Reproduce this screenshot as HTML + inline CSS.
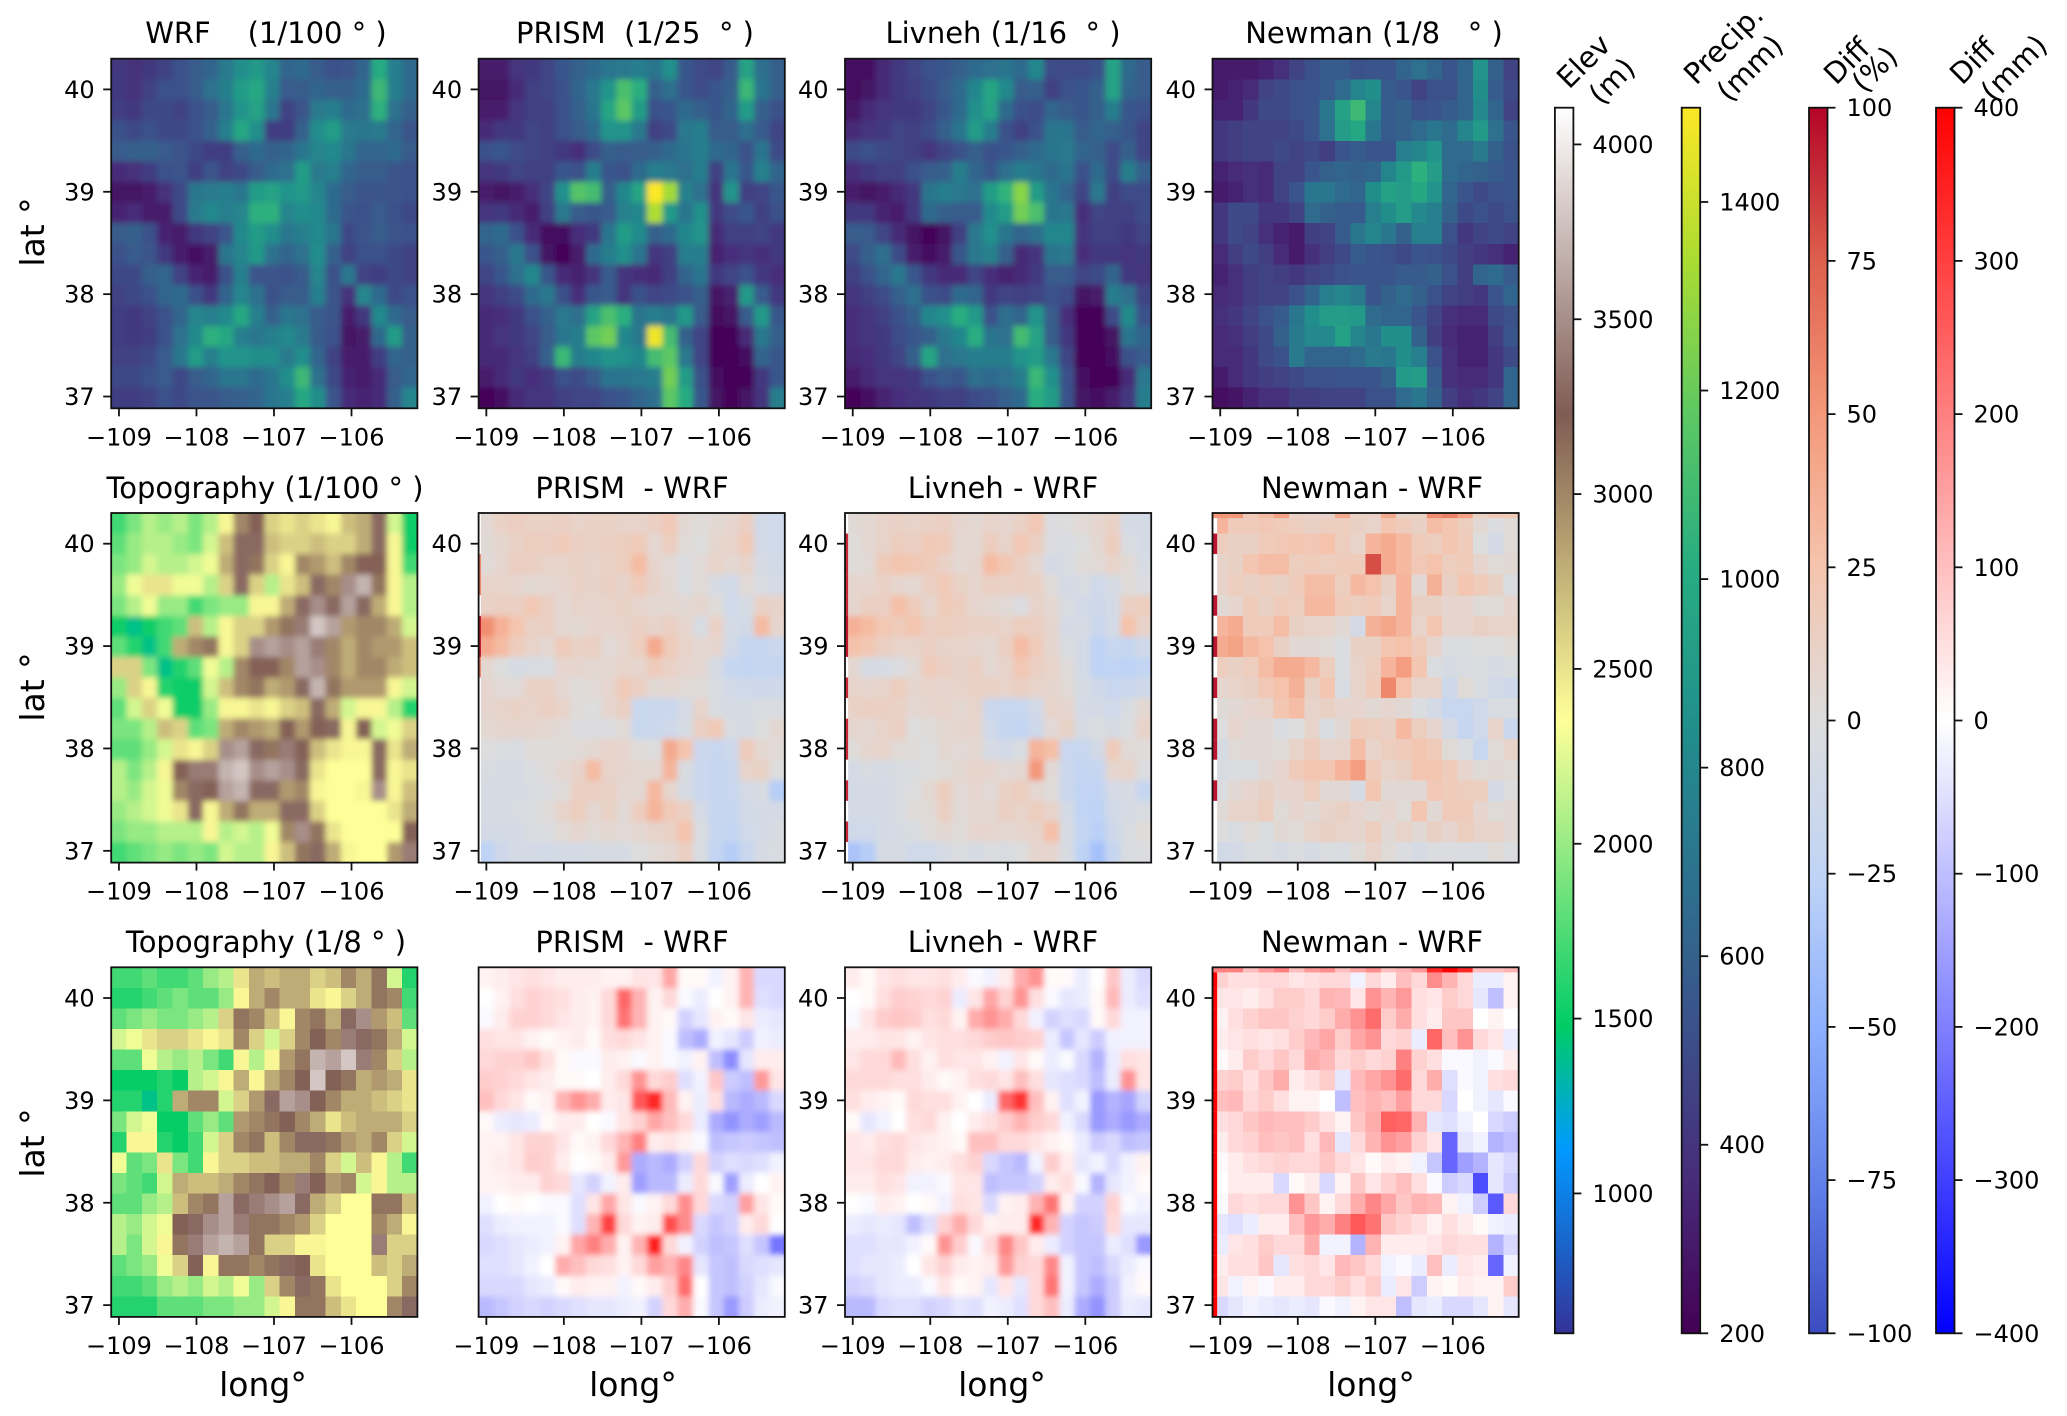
<!DOCTYPE html>
<html>
<head>
<meta charset="utf-8">
<title>Colorado precipitation and topography comparison</title>
<style>
html,body{margin:0;padding:0;background:#fff;}
svg{display:block;}
text{font-family:"DejaVu Sans","Liberation Sans",sans-serif;fill:#000;white-space:pre;}
.title{font-size:29px;text-anchor:middle;}
.big{font-size:33px;text-anchor:middle;}
.cbt{font-size:29px;}
.tick{font-size:24px;}
</style>
</head>
<body>
<svg id="fig" xmlns="http://www.w3.org/2000/svg" width="2067" height="1416" viewBox="0 0 2067 1416">
<defs>
<filter id="soft3" x="-5%" y="-5%" width="110%" height="110%"><feGaussianBlur stdDeviation="3"/></filter>
</defs>
<g id="panels"></g>
<g id="colorbars"></g>

<text class="title" x="266" y="43">WRF    (1/100 ° )</text>
<text class="title" x="635" y="43">PRISM  (1/25  ° )</text>
<text class="title" x="1003" y="43">Livneh (1/16  ° )</text>
<text class="title" x="1374" y="43">Newman (1/8   ° )</text>
<text class="title" x="265" y="498">Topography (1/100 ° )</text>
<text class="title" x="632" y="498">PRISM  - WRF</text>
<text class="title" x="1003" y="498">Livneh - WRF</text>
<text class="title" x="1372" y="498">Newman - WRF</text>
<text class="title" x="266" y="952">Topography (1/8 ° )</text>
<text class="title" x="632" y="952">PRISM  - WRF</text>
<text class="title" x="1003" y="952">Livneh - WRF</text>
<text class="title" x="1372" y="952">Newman - WRF</text>

<text class="big" transform="translate(44,232) rotate(-90)">lat °</text>
<text class="big" transform="translate(44,687) rotate(-90)">lat °</text>
<text class="big" transform="translate(44,1143) rotate(-90)">lat °</text>
<text class="big" x="263" y="1396">long°</text>
<text class="big" x="633" y="1396">long°</text>
<text class="big" x="1002" y="1396">long°</text>
<text class="big" x="1371" y="1396">long°</text>

<text class="cbt" transform="translate(1569,90) rotate(-45)">Elev</text>
<text class="cbt" transform="translate(1601,106) rotate(-45)">(m)</text>
<text class="cbt" transform="translate(1696,86) rotate(-45)">Precip.</text>
<text class="cbt" transform="translate(1729,103) rotate(-45)">(mm)</text>
<text class="cbt" transform="translate(1836,86) rotate(-45)">Diff</text>
<text class="cbt" transform="translate(1864,94) rotate(-45)">(%)</text>
<text class="cbt" transform="translate(1962,86) rotate(-45)">Diff</text>
<text class="cbt" transform="translate(1993,103) rotate(-45)">(mm)</text>
</svg>
<script>
// Precipitation, tens of mm. Rows run north to south, columns west to east.
const wrfPrecip = [
[41,38,41,46,52,57,62,73,84,90,79,62,65,57,52,54,62,100,76,65],
[41,38,46,52,52,57,68,76,92,98,76,57,57,62,60,60,65,108,76,65],
[44,41,49,49,46,52,57,71,87,95,71,46,54,73,76,65,68,103,68,60],
[52,49,52,49,49,52,60,76,98,84,44,44,60,84,92,73,71,73,62,54],
[57,60,60,57,54,49,44,44,60,65,60,62,71,79,81,71,62,62,65,57],
[36,38,44,52,54,44,54,46,49,57,65,68,92,73,76,62,57,57,54,52],
[27,27,30,38,49,71,73,76,71,92,95,87,90,79,65,57,54,54,54,52],
[33,36,30,30,49,73,81,76,79,103,103,79,84,81,65,54,52,57,52,49],
[57,60,52,33,30,41,46,54,81,92,84,71,76,81,71,49,54,57,54,52],
[52,57,54,41,30,25,30,71,79,90,68,62,68,84,60,46,52,52,49,46],
[49,49,60,62,46,33,30,52,76,54,54,52,57,79,52,71,46,44,49,46],
[46,49,52,62,65,52,41,62,79,68,52,57,57,76,54,38,79,65,49,52],
[44,41,46,52,62,79,76,81,98,76,60,71,68,57,54,30,41,81,65,57],
[44,41,44,52,68,81,103,98,76,71,76,81,73,57,52,27,30,65,92,60],
[46,46,49,57,71,92,76,87,87,84,84,73,84,62,46,30,30,44,62,60],
[49,49,52,57,49,57,62,71,71,65,71,84,108,68,49,33,30,36,57,62],
[44,44,46,52,49,54,54,57,60,62,71,76,98,84,54,36,33,36,60,79]];
const prismPrecip = [
[30,30,40,42,47,55,60,65,70,72,75,70,85,55,50,47,57,95,67,60],
[27,27,35,45,47,52,62,72,87,112,102,60,67,55,50,55,60,107,70,60],
[30,30,40,45,45,52,60,70,97,117,92,52,55,65,60,55,62,92,60,52],
[35,42,42,47,45,52,57,65,87,87,72,45,50,72,75,57,57,67,57,47],
[52,55,50,47,45,42,37,50,60,57,57,60,65,70,75,65,62,52,70,50],
[40,42,47,45,45,55,52,75,55,52,65,75,72,67,75,45,70,55,77,62],
[30,27,30,37,47,85,115,110,60,80,97,150,132,77,67,40,87,45,47,55],
[40,42,35,30,45,72,57,55,57,77,80,135,90,70,85,42,50,55,45,52],
[62,65,52,35,25,25,37,42,70,92,82,60,65,80,87,35,45,45,47,42],
[55,60,72,52,27,22,30,65,75,85,70,40,45,75,75,32,37,40,37,42],
[47,55,67,80,55,35,32,40,57,40,37,35,45,62,70,42,47,52,42,37],
[40,45,50,65,72,52,37,55,57,40,52,47,50,52,60,27,32,90,57,42],
[35,37,42,52,60,72,67,95,112,102,70,75,70,90,57,25,27,57,90,55],
[35,40,42,47,57,70,75,117,122,80,72,147,110,60,47,22,22,35,72,60],
[35,35,40,45,60,107,75,80,87,85,80,110,117,72,47,22,22,25,62,55],
[30,35,42,37,42,52,50,57,70,70,72,75,122,92,52,25,22,22,42,55],
[22,25,35,40,40,45,47,47,52,55,62,67,117,100,55,27,22,27,40,75]];
const livnehPrecip = [
[25,25,35,42,47,52,55,60,65,67,70,65,80,50,50,50,52,95,65,57],
[25,27,35,42,45,50,57,65,80,97,82,57,60,45,52,55,60,95,62,57],
[27,35,40,42,42,47,55,65,85,95,65,52,50,62,57,55,60,75,55,52],
[35,40,42,47,45,50,60,70,92,75,52,45,52,70,70,57,62,60,55,47],
[50,52,50,47,45,40,47,52,60,52,55,60,65,70,72,62,60,50,60,47],
[37,42,45,45,52,57,60,75,62,55,67,75,70,65,70,52,65,50,75,60],
[30,27,30,35,42,70,75,72,67,92,105,127,92,70,62,47,72,45,50,50],
[42,42,32,30,42,65,60,57,57,82,92,122,112,70,72,37,47,45,45,50],
[57,57,47,35,27,22,27,45,72,85,70,62,67,80,80,40,45,45,42,47],
[50,60,67,50,30,25,30,55,72,77,60,35,40,70,72,37,42,42,40,42],
[45,52,62,72,55,42,35,35,47,37,32,35,42,57,57,47,50,62,42,40],
[40,45,50,60,67,52,50,65,62,42,47,45,47,52,50,27,30,75,67,47],
[37,40,45,52,60,80,85,102,90,52,67,62,87,57,37,22,22,50,82,52],
[37,40,42,50,55,60,72,80,102,70,67,110,95,57,42,22,22,27,70,62],
[35,37,42,47,60,97,67,72,75,75,75,87,92,72,47,22,22,25,52,57],
[30,35,40,40,42,52,57,55,67,65,67,75,107,85,52,25,22,22,35,72],
[22,25,32,37,40,42,45,45,50,52,60,65,102,92,52,27,25,30,42,75]];
const newmanPrecip = [
[30,30,30,33,38,46,52,57,57,52,54,54,62,68,62,54,62,87,60,46],
[30,33,36,46,49,52,54,57,65,79,84,57,54,46,52,52,62,84,57,49],
[33,33,41,49,49,52,54,71,95,108,79,57,60,52,54,57,62,81,62,46],
[41,44,46,46,46,49,54,68,92,98,71,57,60,65,71,65,79,90,68,54],
[41,44,46,46,49,46,49,44,54,57,54,54,76,79,87,65,65,73,60,52],
[33,36,38,36,46,46,54,60,62,60,62,79,90,103,92,65,62,60,57,54],
[30,33,38,36,46,54,71,71,65,62,84,95,92,98,87,62,54,49,52,54],
[41,49,49,41,41,46,65,60,57,57,76,84,92,81,76,60,49,52,49,52],
[41,49,46,38,33,30,44,46,57,71,79,71,60,76,76,52,41,46,49,46],
[36,44,49,44,36,30,38,44,49,57,54,52,49,54,52,49,44,41,38,33],
[33,38,44,46,44,41,46,49,52,54,54,54,57,57,60,52,44,62,65,57],
[36,38,44,46,46,52,62,76,79,73,54,60,65,60,52,46,44,41,54,62],
[38,41,46,52,57,71,84,92,92,90,65,62,62,54,46,38,36,36,49,52],
[36,38,44,49,60,73,81,81,95,79,71,84,84,60,44,36,33,33,44,54],
[36,36,41,49,52,73,62,62,62,65,73,71,84,76,52,38,33,33,41,49],
[30,36,41,44,46,49,52,52,54,54,54,60,90,92,57,38,36,36,41,62],
[25,27,33,38,38,44,44,46,46,46,52,52,65,71,60,44,38,41,46,62]];

// Elevation, hundreds of metres.
const topo100 = [
[17,19,21,20,21,19,21,24,30,32,26,25,26,25,24,27,28,33,22,15],
[18,20,21,21,20,19,22,27,33,33,27,26,26,27,26,26,28,33,24,15],
[19,20,22,21,21,22,23,28,33,31,26,24,30,29,27,30,32,32,24,17],
[20,23,25,25,23,23,21,26,33,26,21,25,27,33,30,35,37,31,24,21],
[19,21,23,20,20,17,19,20,20,24,24,28,33,35,33,36,33,28,24,21],
[15,14,15,17,18,27,21,24,26,26,29,31,34,38,36,29,30,30,28,22],
[18,16,14,17,28,30,31,24,26,35,36,35,36,34,30,28,30,29,29,27],
[26,26,19,14,16,18,23,21,30,32,32,30,36,35,30,28,30,30,28,27],
[20,26,24,16,15,15,22,27,30,31,28,29,33,37,31,29,29,29,24,22],
[18,22,26,23,15,15,20,24,24,25,24,26,27,33,28,22,24,24,21,16],
[19,19,21,27,26,18,19,28,30,29,28,32,29,32,33,24,32,22,23,26],
[18,18,20,22,25,24,26,35,36,33,31,34,32,27,25,24,24,33,25,28],
[21,19,21,24,32,34,34,37,38,35,36,35,33,25,23.5,23.5,23.5,33,24,25],
[21,20,22,23,30,33,32,36,37,33,33,29,30,24,23.5,23.5,24,35,24,27],
[20,21,22,23,25,33,24,28,31,28,28,33,33,26,23.5,23.5,23.5,23.5,25,28],
[19,20,20,21,21,21,24,21,22,21,23,30,35,31,25,23.5,23.5,23.5,23.5,32],
[17,18,19,20,19,20,19,22,21,21,24,27,31,33,28,24,23.5,23.5,29,34]];
const topo8 = [
[17,17,18,17,17,18,20,21,25,28,27,28,28,26,27,30,28,31,22,16],
[16,16,17,18,19,18,18,20,24,28,30,28,28,25,24,26,28,31,30,17],
[18,19,20,19,19,20,21,26,31,30,27,24,30,31,28,33,35,29,27,18],
[22,23,25,26,26,25,24,25,30,26,22,26,30,32,30,34,33,31,28,22],
[18,18,23,21,20,21,19,17,24,21,24,29,31,37,36,38,34,30,26,21],
[15,15,15,16,15,21,22,24,28,24,28,30,32,38,32,31,28,29,28,25],
[16,16,14,16,28,30,30,22,26,29,33,36,35,32,30,28,28,27,26,25],
[19,22,23,15,15,18,20,18,29,30,31,32,30,28,25,27,28,28,28,26],
[16,24,24,16,15,17,22,26,30,31,27,30,33,33,31,29,28,30,26,22],
[23,18,19,25,19,17,24,26,26,27,27,28,28,30,26,22,27,24,21,17],
[19,18,17,22,28,27,27,28,30,31,32,30,34,32,29,30,22,24,21,21],
[18,18,20,21,27,30,31,36,33,34,35,36,33,28,26,23.5,23.5,31,31,27],
[21,20,22,23,32,33,35,36,34,31,31,30,29,26,23.5,23.5,23.5,30,28,24],
[21,19,22,24,31,34,36,37,36,31,26,26,24,24,23.5,23.5,23.5,34,26,26],
[18,19,20,23,26,32,24,31,31,30,31,33,32,25,23.5,23.5,23.5,27,26,28],
[17,17,18,20,21,20,22,21,23,20,26,30,33,31,25,23.5,23.5,23.5,26,30],
[16,16,16,18,18,18,19,19,20,20,22,24,31,31,27,25,23.5,23.5,30,33]];

// Difference, percent.
const prismDiffPct = [
[5,12,15,12,12,14,10,12,12,10,10,14,20,5,2,5,8,14,-10,-12],
[4,8,12,16,15,18,14,12,14,16,18,6,16,3,0,8,10,20,-10,-12],
[3,8,15,14,10,10,12,10,12,16,30,8,4,-2,4,10,6,10,-6,-10],
[10,10,8,5,6,8,12,10,14,10,18,10,5,-3,4,-6,-10,4,-4,-8],
[12,14,14,22,14,6,10,8,10,12,8,6,6,5,8,2,-12,-6,12,10],
[55,36,24,12,14,6,5,8,8,10,14,10,14,8,-5,12,-8,-10,30,8],
[40,30,16,10,6,18,12,14,4,8,16,40,18,10,6,8,-10,-20,-20,-16],
[6,0,-6,-4,-4,8,8,6,6,10,8,18,12,8,6,-6,-20,-22,-20,-20],
[8,4,4,12,12,6,2,4,8,20,14,4,6,4,2,-4,-10,-12,-14,-12],
[8,10,12,10,14,10,2,0,8,14,-18,-16,-16,-8,10,-4,-6,-6,-4,-4],
[6,8,8,8,6,4,-2,-2,-2,4,-18,-16,-12,-6,14,20,-4,-6,0,6],
[0,-2,-4,2,2,2,4,6,10,8,2,0,40,24,-16,-18,-14,18,6,4],
[-4,-6,-6,-2,2,6,10,30,10,8,6,6,34,-4,-16,-20,-18,10,12,0],
[-6,-6,-6,-4,-2,2,14,14,12,6,6,32,8,-6,-16,-20,-18,-8,-4,-30],
[-6,-6,-4,-2,2,10,16,6,12,4,16,34,20,14,-8,-20,-20,-10,-8,-8],
[-8,-8,-8,-4,-2,4,8,4,6,4,6,10,12,26,-4,-20,-22,-12,-8,-4],
[-26,-14,-8,-8,-10,-8,-8,-6,-6,-6,0,4,6,14,-4,-22,-30,-18,-6,-4]];
const livnehDiffPct = [
[4,6,10,12,10,12,14,8,6,10,8,12,22,-2,0,4,8,12,-8,-8],
[2,6,10,16,14,20,18,6,6,16,10,22,14,-2,-4,0,6,16,-4,-8],
[2,4,18,24,22,18,12,6,8,30,22,14,6,-8,-4,2,4,10,4,-6],
[8,8,12,8,6,14,20,12,8,14,12,14,12,2,-8,-4,-12,-6,2,-2],
[8,14,14,28,18,8,18,16,8,6,4,-2,10,6,-4,-10,-14,-8,14,16],
[36,30,22,18,24,14,16,14,12,12,10,16,14,8,-8,-6,-16,-8,26,10],
[26,22,14,10,10,14,10,10,8,6,14,30,18,8,-4,-8,-26,-18,-20,-12],
[6,-6,-6,-2,4,18,14,10,14,6,10,22,14,10,2,-8,-26,-24,-26,-22],
[10,8,10,16,8,10,8,10,12,12,10,14,10,8,4,-6,-12,-18,-16,-12],
[12,14,14,12,6,8,10,6,10,-16,-18,-18,-10,10,8,-8,-8,-12,-4,6],
[8,6,10,14,0,2,6,8,8,-12,-20,-22,-14,4,12,-6,-2,-6,-2,10],
[2,8,10,4,2,0,6,4,6,-6,-10,-4,34,28,-18,-18,-10,18,4,2],
[-8,-4,-6,-4,-2,0,2,6,10,8,4,6,50,4,-16,-22,-20,8,10,-2],
[-8,-8,-8,-4,0,6,16,4,8,4,12,16,6,2,-16,-24,-24,-8,-6,-20],
[-8,-8,-8,-4,2,4,14,4,6,6,14,10,16,10,-8,-24,-26,-10,-6,-4],
[-12,-12,-8,-6,-4,2,6,2,8,8,6,8,10,28,-6,-22,-28,-14,-4,2],
[-36,-30,-6,-6,-12,-12,-6,-2,-6,-2,-4,0,8,8,-4,-26,-38,-20,-4,-2]];
const newmanDiffPct = [
[34,18,18,21,18,16,13,16,16,13,10,23,18,13,29,23,16,5,-2,3],
[16,13,13,18,21,23,21,26,16,10,34,39,31,18,16,23,18,0,-8,3],
[10,13,23,29,29,16,18,16,18,18,80,39,31,21,26,16,18,8,3,5],
[10,16,13,16,13,18,29,29,16,31,26,13,34,5,36,13,23,18,13,-2],
[5,8,18,13,18,16,31,31,18,16,18,10,34,13,13,8,8,3,3,8],
[34,39,18,18,29,13,10,10,5,-8,36,42,34,10,23,8,8,13,10,10],
[39,44,31,26,13,5,5,3,-2,13,13,23,26,18,8,-2,-2,0,0,3],
[16,13,16,29,39,39,31,16,-2,10,16,34,47,23,-2,-6,-4,-2,-6,-4],
[8,10,13,21,26,36,13,23,-4,10,18,57,26,10,10,-14,3,-4,-10,-14],
[3,5,8,10,23,29,10,13,8,8,5,8,5,-2,-8,-18,-18,-12,-4,-4],
[0,8,5,5,-4,0,10,-4,5,18,16,13,31,16,8,-8,-20,-12,10,-16],
[-6,3,5,5,3,10,18,8,10,29,10,16,18,23,18,3,-2,-18,3,10],
[-4,-2,-2,5,8,18,23,23,34,47,18,10,13,23,23,18,8,3,5,3],
[-2,5,8,13,8,8,16,5,5,-6,23,5,5,5,21,18,16,16,-8,0],
[3,10,10,16,3,8,5,10,13,8,5,8,3,23,5,18,18,8,3,5],
[0,-4,3,-2,5,3,10,13,10,8,16,5,10,5,13,8,16,10,10,5],
[-10,-8,-4,-2,-6,-2,-6,-2,-4,3,10,3,-2,-6,-2,-2,-4,-4,3,-2]];

// Difference, mm.
const prismDiffMm = [
[20,30,40,50,40,30,30,30,20,20,40,40,140,10,10,-20,20,120,-60,-60],
[0,20,50,70,60,50,30,20,60,240,120,20,60,-10,-30,0,20,120,-50,-60],
[-10,30,70,70,60,40,30,20,60,220,120,20,10,-70,-40,20,10,40,-30,-40],
[50,40,40,20,10,20,30,10,50,60,40,20,-10,-100,-130,-20,-40,-80,-20,-30],
[60,70,70,90,50,10,-10,-10,30,20,-10,20,-10,-20,20,-100,-180,-40,30,30],
[80,70,60,40,30,10,10,0,30,60,170,60,80,-50,-20,90,-80,-100,160,40],
[100,60,40,10,20,120,170,130,30,40,260,340,110,20,-30,50,-110,-130,-110,-60],
[10,-30,-40,-30,10,30,30,0,-10,40,70,140,100,60,-30,-130,-170,-130,-150,-110],
[20,20,40,70,70,40,10,20,60,120,200,30,40,20,-10,-100,-90,-80,-90,-100],
[20,30,40,80,70,30,0,10,30,160,-130,-110,-130,-70,60,-70,-50,-60,-50,-20],
[20,20,30,30,70,60,-40,-70,-20,30,-150,-110,-110,-30,60,-10,-150,-30,0,20],
[-20,0,10,0,-10,-10,-50,40,140,40,-10,20,60,180,60,-60,-70,150,40,10],
[-50,-30,-20,-20,-20,-10,-50,120,300,60,20,30,280,180,-60,-90,-70,30,60,0],
[-60,-50,-40,-30,-20,20,140,200,130,20,120,360,60,-20,-70,-100,-90,-50,-90,-220],
[-50,-50,-40,-20,0,130,100,60,50,20,60,150,120,190,-40,-90,-100,-60,-50,-40],
[-60,-60,-60,-40,-30,10,30,20,20,-20,10,30,80,230,0,-90,-100,-70,-40,-10],
[-110,-90,-70,-60,-70,-60,-50,-40,-40,-30,-20,-70,60,130,-10,-90,-160,-80,-30,-20]];
const livnehDiffMm = [
[30,10,40,50,40,40,50,30,-10,-20,30,130,170,10,10,-30,0,90,-30,-60],
[0,10,50,80,70,60,70,-30,40,140,70,170,50,-10,-40,-30,10,110,-30,-50],
[-10,40,80,90,80,50,60,20,130,170,130,60,-20,-70,-50,-60,10,60,-20,-20],
[30,30,40,40,20,40,50,50,60,80,90,80,70,-30,-90,-40,-80,-20,-20,-20],
[40,60,60,110,50,20,50,40,40,20,-20,40,10,-30,-10,-60,-120,-30,50,40],
[60,60,60,50,50,30,10,20,50,60,40,100,50,-40,-50,-60,-100,-30,170,40],
[50,30,20,10,60,50,50,20,0,-30,240,320,100,20,-50,-20,-160,-120,-140,-70],
[10,-40,-20,0,50,60,20,0,30,50,80,120,80,60,-20,-60,-160,-130,-160,-130],
[40,30,50,60,40,30,20,10,100,100,60,60,40,20,10,-30,-80,-60,-100,-90],
[40,40,60,60,30,20,30,50,70,-60,-90,-110,-20,80,30,-40,-20,-60,-20,20],
[30,30,50,40,-20,-20,-10,40,40,-100,-90,-90,-70,30,50,-10,-120,-40,-20,10],
[0,-10,30,20,0,10,-20,50,40,-60,20,30,120,220,20,-70,-70,70,-10,-20],
[-30,-40,-30,-40,-100,-50,70,130,60,20,30,30,340,120,-70,-90,-80,60,-40,-40],
[-50,-50,-40,-40,-20,10,170,80,-10,60,190,90,30,-30,-70,-90,-90,-30,-50,-160],
[-50,-40,-40,-30,0,40,70,30,20,30,160,70,60,190,-20,-90,-100,-60,-30,-10],
[-70,-60,-40,-30,-30,-10,40,10,20,-40,40,-40,60,220,-20,-90,-130,-80,-20,10],
[-110,-110,-60,-50,-50,-70,-60,-40,-50,-20,-30,-50,60,100,-30,-130,-170,-80,-30,-40]];
const newmanDiffMm = [
[70,50,50,60,60,40,50,60,60,-20,60,30,100,60,180,120,60,-30,-30,20],
[40,40,30,50,80,80,60,120,110,40,170,120,160,50,40,80,60,-40,-100,20],
[20,50,70,90,90,70,60,80,130,170,230,80,130,50,30,90,90,0,20,0],
[30,40,50,40,50,80,110,140,80,140,170,60,70,-30,240,100,170,60,40,-30],
[10,30,80,60,90,60,130,110,60,80,60,70,200,70,50,-10,-10,-20,-10,30],
[70,80,50,90,130,30,50,80,-40,110,140,170,230,60,130,-50,-10,-20,50,60],
[100,110,60,80,50,20,20,0,-100,100,120,100,150,60,60,-60,0,-20,-40,-10],
[50,60,90,110,100,100,80,50,20,90,130,250,240,120,-40,-50,-20,0,-60,-80],
[30,60,70,100,90,100,50,110,-40,60,120,170,150,70,40,-240,-40,-20,-120,-100],
[10,30,50,60,70,60,60,90,60,40,10,30,20,-20,-90,-240,-150,-120,-40,-60],
[0,30,30,30,-60,10,30,-60,20,90,40,70,100,50,-10,-80,-60,-280,-40,-80],
[-10,60,50,60,60,170,90,20,60,130,190,140,90,120,110,20,-20,-80,-260,60],
[-40,-50,-30,30,30,100,160,130,200,260,220,90,70,50,20,50,30,10,-20,-30],
[-30,40,50,80,60,60,130,-20,-20,-120,120,30,30,30,40,60,50,50,-120,-60],
[30,50,50,90,-40,50,60,40,110,90,60,-20,-10,-30,100,-30,40,30,-240,-20],
[40,-20,20,-10,30,30,60,60,80,50,80,-30,40,-80,20,10,30,20,20,80],
[-60,-40,-20,-30,-40,-30,-40,-10,-20,20,40,40,-100,-40,-30,-60,-60,-40,20,-40]];

// Narrow west-edge and north-edge strips seen along the difference maps (null = no data).
const prismEdgePct = [null,null,60,60,null,95,95,60,null,null,null,null,null,null,null,null,null];
const livnehEdgePct = [null,90,90,90,90,95,95,null,90,null,90,90,null,90,null,90,null];
const newmanEdgePct = [null,95,null,null,95,null,95,null,95,null,95,95,null,95,null,null,null];
const newmanNorthPct = [50,50,20,30,45,12,10,10,40,12,12,40,10,12,55,60,45,12,20,20];
const newmanEdgeMm = [400,400,400,400,400,400,400,400,400,400,400,400,400,400,400,400,400];
const newmanNorthMm = [200,200,100,160,200,100,160,180,100,140,180,100,120,160,340,400,340,100,100,120];

const lonTicks = [-109,-108,-107,-106];
const latTicks = [40,39,38,37];
const elevTicks = [1000,1500,2000,2500,3000,3500,4000];
const precipTicks = [200,400,600,800,1000,1200,1400];
const pctTicks = [-100,-75,-50,-25,0,25,50,75,100];
const mmTicks = [-400,-300,-200,-100,0,100,200,300,400];

const viridisStops = ['#440154','#472c7a','#3b528b','#2c728e','#21908c','#27ad81','#5dc863','#aadc32','#fde725'];
const terrainStops = [[0,'#333399'],[0.15,'#0099ff'],[0.25,'#00cc66'],[0.5,'#ffff99'],[0.75,'#805c54'],[1,'#ffffff']];
const coolwarmStops = ['#3b4cc0','#6282ea','#8db0fe','#c0d4f5','#dddddd','#f5c4ad','#f4987a','#de604d','#b40426'];
const bwrStops = ['#0000ff','#ffffff','#ff0000'];

const NS = 'http://www.w3.org/2000/svg';
const LON_MIN = -109.1, LON_MAX = -105.15, LAT_MIN = 36.885, LAT_MAX = 40.3;
const PANEL_W = 306.2, PANEL_H = 349.6;
const colLeft = [111.2,478.6,845,1212.5];
const rowTop = [58.7,513,967.3];
const CB_TOP = 107.7, CB_BOTTOM = 1333.3, CB_W = 18.5;

function hexRgb(h){return [parseInt(h.slice(1,3),16),parseInt(h.slice(3,5),16),parseInt(h.slice(5,7),16)];}
function mixStops(pairs,t){
  t=Math.max(0,Math.min(1,t));
  for(let i=1;i<pairs.length;i++){
    if(t<=pairs[i][0]){
      const a=pairs[i-1],b=pairs[i],f=(t-a[0])/(b[0]-a[0]);
      const ca=hexRgb(a[1]),cb=hexRgb(b[1]);
      return 'rgb('+ca.map((v,k)=>Math.round(v+(cb[k]-v)*f)).join(',')+')';
    }
  }
  return pairs[pairs.length-1][1];
}
function even(stops){return stops.map((c,i)=>[i/(stops.length-1),c]);}
const cmapViridis = {pairs:even(viridisStops),min:200,max:1500};
const cmapTerrain = {pairs:terrainStops,min:600,max:4105};
const cmapCoolwarm = {pairs:even(coolwarmStops),min:-100,max:100};
const cmapBwr = {pairs:even(bwrStops),min:-400,max:400};
function colorOf(cmap,v){return mixStops(cmap.pairs,(v-cmap.min)/(cmap.max-cmap.min));}

const panelSpecs = [
 {key:'wrf',grid:wrfPrecip,unit:10,cmap:cmapViridis,row:0,col:0,blur:'soft3',yt:true},
 {key:'prism',grid:prismPrecip,unit:10,cmap:cmapViridis,row:0,col:1,blur:'soft3',yt:true},
 {key:'livneh',grid:livnehPrecip,unit:10,cmap:cmapViridis,row:0,col:2,blur:'soft3',yt:true},
 {key:'newman',grid:newmanPrecip,unit:10,cmap:cmapViridis,row:0,col:3,blur:null,yt:true},
 {key:'topography-100',grid:topo100,unit:100,cmap:cmapTerrain,row:1,col:0,blur:'soft3',yt:true},
 {key:'prism-diff-percent',grid:prismDiffPct,unit:1,cmap:cmapCoolwarm,row:1,col:1,blur:'soft3',yt:true,edge:prismEdgePct,edgeW:0.03},
 {key:'livneh-diff-percent',grid:livnehDiffPct,unit:1,cmap:cmapCoolwarm,row:1,col:2,blur:'soft3',yt:true,edge:livnehEdgePct,edgeW:0.04},
 {key:'newman-diff-percent',grid:newmanDiffPct,unit:1,cmap:cmapCoolwarm,row:1,col:3,blur:null,yt:true,edge:newmanEdgePct,edgeW:0.06,north:newmanNorthPct},
 {key:'topography-8',grid:topo8,unit:100,cmap:cmapTerrain,row:2,col:0,blur:null,yt:true},
 {key:'prism-diff-mm',grid:prismDiffMm,unit:1,cmap:cmapBwr,row:2,col:1,blur:'soft3',yt:false},
 {key:'livneh-diff-mm',grid:livnehDiffMm,unit:1,cmap:cmapBwr,row:2,col:2,blur:'soft3',yt:true},
 {key:'newman-diff-mm',grid:newmanDiffMm,unit:1,cmap:cmapBwr,row:2,col:3,blur:null,yt:true,edge:newmanEdgeMm,edgeW:0.06,north:newmanNorthMm}
];

const panelsRoot = document.getElementById('panels');
const defs = document.querySelector('defs');

function tickText(parent,x,y,str,anchor){
  const t=document.createElementNS(NS,'text');
  t.setAttribute('class','tick');
  t.setAttribute('x',x);
  t.setAttribute('y',y);
  t.setAttribute('text-anchor',anchor);
  
  
  t.textContent=str;
  parent.appendChild(t);
}
function tickLine(parent,x1,y1,x2,y2){
  const l=document.createElementNS(NS,'line');
  l.setAttribute('x1',x1);
  l.setAttribute('y1',y1);
  l.setAttribute('x2',x2);
  l.setAttribute('y2',y2);
  l.setAttribute('stroke','#111');
  l.setAttribute('stroke-width','1.8');
  
  
  parent.appendChild(l);
}
function fmt(v){return v<0?'\u2212'+Math.abs(v):String(v);}

panelSpecs.forEach(function(p){
  const left=colLeft[p.col], top=rowTop[p.row];
  const xScale=lon=>left+(lon-LON_MIN)/(LON_MAX-LON_MIN)*PANEL_W;
  const yScale=lat=>top+(LAT_MAX-lat)/(LAT_MAX-LAT_MIN)*PANEL_H;
  const g=document.createElementNS(NS,'g');
  
  
  panelsRoot.appendChild(g);

  const clip=document.createElementNS(NS,'clipPath');
  clip.setAttribute('id','clip-'+p.key);
  const cr=document.createElementNS(NS,'rect');
  cr.setAttribute('x',left);
  cr.setAttribute('y',top);
  cr.setAttribute('width',PANEL_W);
  cr.setAttribute('height',PANEL_H);
  clip.appendChild(cr);
  defs.appendChild(clip);

  const holder=document.createElementNS(NS,'g');
  holder.setAttribute('clip-path','url(#clip-'+p.key+')');
  
  
  g.appendChild(holder);

  const cells=document.createElementNS(NS,'g');
  cells.setAttribute('id','cells-'+p.key);
  cells.setAttribute('shape-rendering','crispEdges');
  holder.appendChild(cells);
  const nRows=p.grid.length;
  const dLat=(LAT_MAX-LAT_MIN)/nRows;
  p.grid.forEach(function(row,r){
    const dLon=(LON_MAX-LON_MIN)/row.length;
    row.forEach(function(v,c){
      const lon0=LON_MIN+c*dLon, lat0=LAT_MAX-r*dLat;
      const rect=document.createElementNS(NS,'rect');
      rect.setAttribute('x',xScale(lon0));
      rect.setAttribute('y',yScale(lat0));
      rect.setAttribute('width',xScale(lon0+dLon)-xScale(lon0)+0.6);
      rect.setAttribute('height',yScale(lat0-dLat)-yScale(lat0)+0.6);
      rect.setAttribute('fill',colorOf(p.cmap,v*p.unit));
      
      
      cells.appendChild(rect);
    });
  });
  if(p.blur){
    const soft=document.createElementNS(NS,'use');
    soft.setAttribute('href','#cells-'+p.key);
    soft.setAttribute('filter','url(#'+p.blur+')');
    holder.appendChild(soft);
  }
  if(p.edge){
    p.edge.forEach(function(v,r){
      const lat0=LAT_MAX-r*dLat;
      const s=document.createElementNS(NS,'rect');
      s.setAttribute('x',xScale(LON_MIN));
      s.setAttribute('y',yScale(lat0));
      s.setAttribute('width',xScale(LON_MIN+p.edgeW)-xScale(LON_MIN));
      s.setAttribute('height',yScale(lat0-dLat)-yScale(lat0));
      s.setAttribute('fill',v===null?'#ffffff':colorOf(p.cmap,v));
      
      
      holder.appendChild(s);
    });
  }
  if(p.north){
    const dLonN=(LON_MAX-LON_MIN)/p.north.length;
    p.north.forEach(function(v,c){
      const lon0=LON_MIN+c*dLonN;
      const s=document.createElementNS(NS,'rect');
      s.setAttribute('x',xScale(lon0));
      s.setAttribute('y',yScale(LAT_MAX));
      s.setAttribute('width',xScale(lon0+dLonN)-xScale(lon0));
      s.setAttribute('height',yScale(LAT_MAX-0.05)-yScale(LAT_MAX));
      s.setAttribute('fill',colorOf(p.cmap,v));
      
      
      holder.appendChild(s);
    });
  }
  const frame=document.createElementNS(NS,'rect');
  frame.setAttribute('x',left);
  frame.setAttribute('y',top);
  frame.setAttribute('width',PANEL_W);
  frame.setAttribute('height',PANEL_H);
  frame.setAttribute('fill','none');
  frame.setAttribute('stroke','#111');
  frame.setAttribute('stroke-width','1.8');
  
  
  g.appendChild(frame);

  lonTicks.forEach(function(t){
    tickLine(g,xScale(t),top+PANEL_H,xScale(t),top+PANEL_H+8);
    tickText(g,xScale(t),top+PANEL_H+37,fmt(t),'middle');
  });
  if(p.yt){
    latTicks.forEach(function(t){
      tickLine(g,left-8,yScale(t),left,yScale(t));
      tickText(g,left-16.5,yScale(t)+8.5,fmt(t),'end');
    });
  }
});

const cbSpecs = [
 {key:'elev',x:1554.9,cmap:cmapTerrain,ticks:elevTicks},
 {key:'precip',x:1681.7,cmap:cmapViridis,ticks:precipTicks},
 {key:'diff-percent',x:1809,cmap:cmapCoolwarm,ticks:pctTicks},
 {key:'diff-mm',x:1936,cmap:cmapBwr,ticks:mmTicks}
];
const cbRoot=document.getElementById('colorbars');
cbSpecs.forEach(function(cb){
  const g=document.createElementNS(NS,'g');
  
  
  cbRoot.appendChild(g);
  const grad=document.createElementNS(NS,'linearGradient');
  grad.setAttribute('id','grad-'+cb.key);
  grad.setAttribute('x1','0');
  grad.setAttribute('y1','1');
  grad.setAttribute('x2','0');
  grad.setAttribute('y2','0');
  for(let i=0;i<=40;i++){
    const s=document.createElementNS(NS,'stop');
    s.setAttribute('offset',i/40);
    s.setAttribute('stop-color',mixStops(cb.cmap.pairs,i/40));
    grad.appendChild(s);
  }
  defs.appendChild(grad);
  const r=document.createElementNS(NS,'rect');
  r.setAttribute('x',cb.x);
  r.setAttribute('y',CB_TOP);
  r.setAttribute('width',CB_W);
  r.setAttribute('height',CB_BOTTOM-CB_TOP);
  r.setAttribute('fill','url(#grad-'+cb.key+')');
  r.setAttribute('stroke','#111');
  r.setAttribute('stroke-width','1.8');
  
  
  g.appendChild(r);
  const yCb=v=>CB_BOTTOM-(v-cb.cmap.min)/(cb.cmap.max-cb.cmap.min)*(CB_BOTTOM-CB_TOP);
  cb.ticks.forEach(function(t){
    const y=yCb(t), rx=cb.x+CB_W;
    tickLine(g,rx,y,rx+8,y);
    tickText(g,rx+19,y+8.5,fmt(t),'start');
  });
});
</script>
</body>
</html>
